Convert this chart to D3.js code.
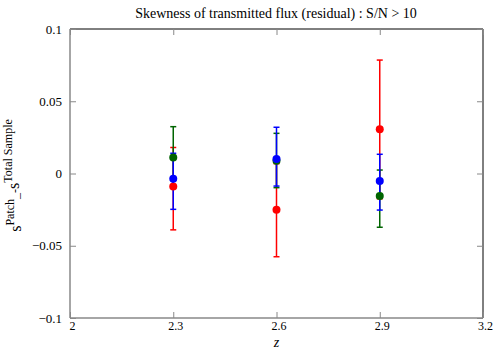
<!DOCTYPE html>
<html>
<head>
<meta charset="utf-8">
<script src="https://cdn.jsdelivr.net/npm/d3@7"></script>
<style>
  body { margin: 0; background: #fff; }
  svg text { font-family: "Liberation Serif", "DejaVu Serif", "Times New Roman", serif !important; }
</style>
</head>
<body>
<svg id="chart" width="500" height="350"></svg>
<script>
// data
const zValues = [2.3, 2.6, 2.9];
const xTicks = [2, 2.3, 2.6, 2.9, 3.2];
const yTicks = [-0.1, -0.05, 0, 0.05, 0.1];

// each series: value, lower end, upper end of error bar
const redVal = [-0.009, -0.025, 0.0306];
const redLo = [-0.039, -0.0576, -0.0175];
const redHi = [0.018, 0.0068, 0.0785];

const greenVal = [0.011, 0.0089, -0.0156];
const greenLo = [-0.010, -0.0098, -0.0372];
const greenHi = [0.0324, 0.0278, 0.0024];

const blueVal = [-0.0036, 0.010, -0.0052];
const blueLo = [-0.0248, -0.0087, -0.0253];
const blueHi = [0.014, 0.032, 0.0133];

const serif = "Liberation Serif, DejaVu Serif, serif";
const svg = d3.select("#chart");
const margin = { left: 70, right: 17, top: 29, bottom: 32 };
const width = 500, height = 350;

const x = d3.scaleLinear().domain([2, 3.2]).range([margin.left, width - margin.right]);
const y = d3.scaleLinear().domain([-0.1, 0.1]).range([height - margin.bottom, margin.top]);

const fmt = d => d3.format("")(+d.toFixed(2));

// frame
svg.append("line").attr("x1", x(2)).attr("x2", x(3.2)).attr("y1", y(0.1)).attr("y2", y(0.1)).attr("stroke", "#000");
svg.append("line").attr("x1", x(3.2)).attr("x2", x(3.2)).attr("y1", y(0.1)).attr("y2", y(-0.1)).attr("stroke", "#000");
svg.append("line").attr("x1", x(2)).attr("x2", x(2)).attr("y1", y(0.1)).attr("y2", y(-0.1)).attr("stroke", "#888").attr("stroke-width", 1.5);
svg.append("line").attr("x1", x(2)).attr("x2", x(3.2)).attr("y1", y(-0.1)).attr("y2", y(-0.1)).attr("stroke", "#888").attr("stroke-width", 1.5);

// axes with inward ticks
const xAxis = svg.append("g").attr("transform", `translate(0,${y(-0.1)})`)
  .call(d3.axisBottom(x).tickValues(xTicks).tickSize(-6).tickPadding(3).tickFormat(fmt));
const xTop = svg.append("g").attr("transform", `translate(0,${y(0.1)})`)
  .call(d3.axisTop(x).tickValues(xTicks).tickSize(-6).tickFormat(""));
const yAxis = svg.append("g").attr("transform", `translate(${x(2)},0)`)
  .call(d3.axisLeft(y).tickValues(yTicks).tickSize(-6).tickPadding(8).tickFormat(fmt));
const yRight = svg.append("g").attr("transform", `translate(${x(3.2)},0)`)
  .call(d3.axisRight(y).tickValues(yTicks).tickSize(-6).tickFormat(""));

[xAxis, xTop, yAxis, yRight].forEach(g => {
  g.attr("font-family", serif);
  g.select(".domain").remove();
  g.selectAll(".tick line").attr("stroke", "#888");
  g.selectAll(".tick text").attr("font-size", 13).attr("fill", "#000");
});
xAxis.selectAll(".tick text").attr("dx", 2).attr("font-size", 12);

const series = [
  { color: "#ff0000", val: redVal, lo: redLo, hi: redHi },
  { color: "#006400", val: greenVal, lo: greenLo, hi: greenHi },
  { color: "#0000ff", val: blueVal, lo: blueLo, hi: blueHi }
];

// error bars first
series.forEach(s => {
  const g = svg.append("g").attr("stroke", s.color).attr("stroke-width", 1.5);
  zValues.forEach((z, i) => {
    g.append("line").attr("x1", x(z)).attr("x2", x(z)).attr("y1", y(s.lo[i])).attr("y2", y(s.hi[i]));
    [s.lo[i], s.hi[i]].forEach(v => {
      g.append("line").attr("x1", x(z) - 3).attr("x2", x(z) + 3).attr("y1", y(v)).attr("y2", y(v));
    });
  });
});

// then points
series.forEach(s => {
  svg.append("g").selectAll("circle").data(zValues).enter().append("circle")
    .attr("cx", d => x(d))
    .attr("cy", (d, i) => y(s.val[i]))
    .attr("r", 4)
    .attr("fill", s.color);
});

// title
svg.append("text").attr("x", 276).attr("y", 18).attr("text-anchor", "middle")
  .attr("font-family", serif).attr("font-size", 14)
  .text("Skewness of transmitted flux (residual) : S/N > 10");

// x label
svg.append("text").attr("x", x(2.6)).attr("y", 347).attr("text-anchor", "middle")
  .attr("font-family", serif).attr("font-size", 14).attr("font-style", "italic")
  .text("z");

// y label
const yl = svg.append("text").attr("transform", `translate(21,${y(0) + 2}) rotate(-90)`)
  .attr("text-anchor", "middle").attr("font-family", serif).attr("font-size", 12);
yl.append("tspan").attr("font-size", 16).text("s");
yl.append("tspan").attr("dy", -7).text("Patch");
yl.append("tspan").attr("dy", 5).text("_-");
yl.append("tspan").attr("font-size", 16).text("s");
yl.append("tspan").attr("dy", -7).text("Total Sample");
</script>
</body>
</html>
